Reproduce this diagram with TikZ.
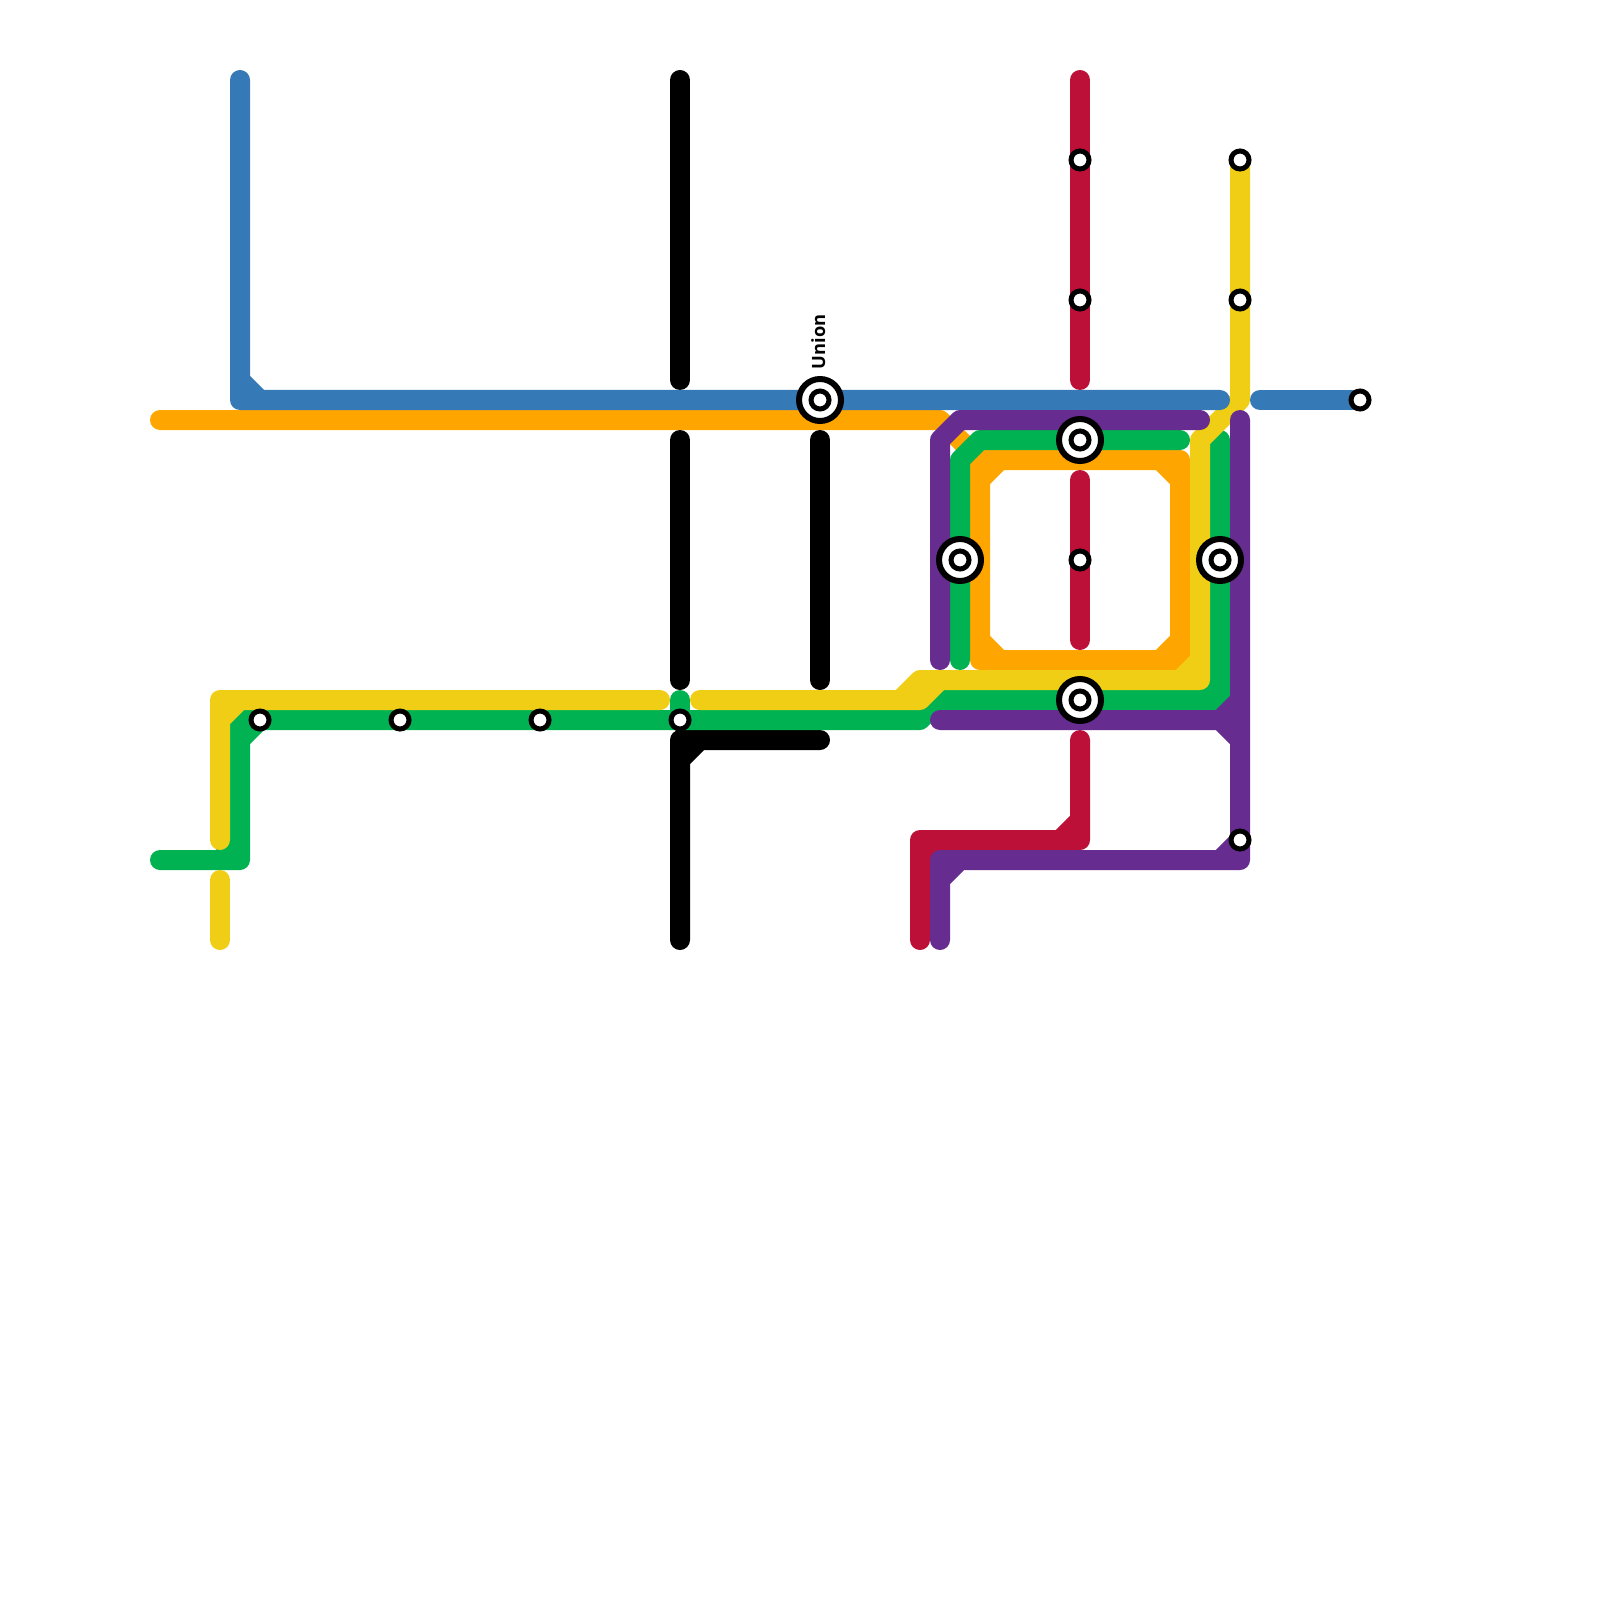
\documentclass[tikz,border=0pt]{standalone}
\usepackage{fontspec}
\setsansfont{Open Sans}
\usetikzlibrary{positioning}

\definecolor{lineblue}{HTML}{357AB7}
\definecolor{lineorange}{HTML}{FFA500}
\definecolor{linegreen}{HTML}{00B251}
\definecolor{lineyellow}{HTML}{F0CE15}
\definecolor{linered}{HTML}{BD1038}
\definecolor{linepurple}{HTML}{662C90}

\begin{document}
\begin{tikzpicture}[x=2mm, y=-2mm,
    font=\fontsize{5.2}{6}\selectfont\sffamily\bfseries,
    route/.style={draw, line width=2mm, line cap=round, line join=round},
    stop/.style={circle, draw=black, fill=white, line width=0.5mm, inner sep=0pt, minimum size=1.8mm},
    hub/.style={stop, line width=0.6mm, minimum size=4.2mm},
    stoplabel/.style={anchor=base west, rotate=90, inner sep=0pt}]

\useasboundingbox (0,0) rectangle (80,80);

% orange, with the ring
\draw [route,lineorange] (8,21) -- (47,21) -- (49,23) -- (59,23) -- (59,33) -- (49,33) -- (49,23);
\draw [route,lineorange] (49,24) -- (50,23) (58,23) -- (59,24) (59,32) -- (58,33) (49,32) -- (50,33);
% black
\draw [route,black] (34,4) -- (34,19);
\draw [route,black] (34,22) -- (34,34);
\draw [route,black] (41,22) -- (41,34);
\draw [route,black] (34,47) -- (34,37) -- (41,37) (34,38) -- (35,37);
% green
\draw [route,linegreen] (8,43) -- (12,43) -- (12,36) -- (46,36) -- (47,35) -- (61,35) -- (61,22);
\draw [route,linegreen] (11,43) -- (12,42) (12,37) -- (13,36) (60,35) -- (61,34);
\draw [route,linegreen] (34,35) -- (34,36);
\draw [route,linegreen] (48,33) -- (48,23) -- (49,22) -- (59,22);
% yellow
\draw [route,lineyellow] (33,35) -- (11,35) -- (11,42) (11,36) -- (12,35);
\draw [route,lineyellow] (11,44) -- (11,47);
\draw [route,lineyellow] (35,35) -- (46,35) -- (47,34) -- (60,34) -- (60,22) -- (62,20) -- (62,8);
\draw [route,lineyellow] (45,35) -- (46,34) -- (47,34) (59,34) -- (60,33);
% blue
\draw [route,lineblue] (12,4) -- (12,20) -- (61,20) (12,19) -- (13,20);
\draw [route,lineblue] (63,20) -- (68,20);
% red
\draw [route,linered] (54,4) -- (54,19);
\draw [route,linered] (54,24) -- (54,32);
\draw [route,linered] (54,37) -- (54,42) -- (46,42) -- (46,47) (54,41) -- (53,42) (46,43) -- (47,42);
% purple
\draw [route,linepurple] (47,33) -- (47,22) -- (48,21) -- (60,21);
\draw [route,linepurple] (47,36) -- (62,36) (61,36) -- (62,35) (61,36) -- (62,37);
\draw [route,linepurple] (62,21) -- (62,43) -- (47,43) -- (47,47) (61,43) -- (62,42) (47,44) -- (48,43);

% stations
\foreach \name/\pos in {a/{13,36}, b/{20,36}, c/{27,36}, d/{34,36}, e/{54,8}, f/{54,15}, g/{54,28}, h/{62,8}, i/{62,15}, j/{62,42}, k/{68,20}}
    \node [stop] (stop\name) at (\pos) {};
\foreach \name/\pos in {union/{41,20}, north/{54,22}, west/{48,28}, south/{54,35}, east/{61,28}} {
    \node [hub] (\name) at (\pos) {};
    \node [stop] (\name core) at (\name) {};
}
\node [stoplabel] (unionlabel) at (41.25,18.5) {Union};

\end{tikzpicture}
\end{document}
